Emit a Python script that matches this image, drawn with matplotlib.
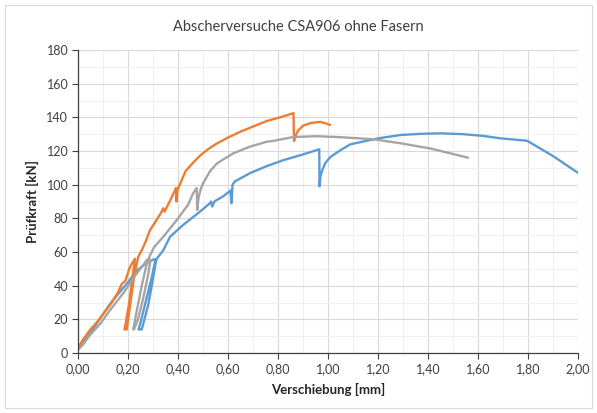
import matplotlib
matplotlib.use("Agg")
import matplotlib.pyplot as plt
from matplotlib.patches import Rectangle
from matplotlib.ticker import MultipleLocator, FuncFormatter

# Shear tests CSA906 without fibres: displacement [mm] vs. test force [kN]
title = "Abscherversuche CSA906 ohne Fasern"
x_label = "Verschiebung [mm]"
y_label = "Prüfkraft [kN]"

# Specimen 1 (blue)
blue_x = [0.00, 0.05, 0.10, 0.13, 0.16, 0.20, 0.235, 0.27, 0.30, 0.31, 0.295, 0.27, 0.25,
          0.242, 0.255, 0.28, 0.30, 0.31, 0.315, 0.341, 0.368, 0.42, 0.488, 0.528, 0.532,
          0.537, 0.545, 0.58, 0.61, 0.614, 0.618, 0.628, 0.69, 0.755, 0.82, 0.89, 0.965,
          0.966, 0.97, 0.978, 0.99, 1.01, 1.05, 1.09, 1.20, 1.29, 1.37, 1.45, 1.54, 1.62,
          1.69, 1.79, 1.80, 1.90, 2.00]
blue_y = [2, 12, 23, 29.5, 35, 42, 49, 53, 55.5, 55.5, 45, 30, 18,
          14, 14, 28, 44, 53, 56, 61, 69, 76, 84, 89, 90,
          87, 90, 93, 96.5, 89, 100, 102, 107, 111, 114.5, 117.5, 121,
          99, 105, 109, 113, 116.5, 120.5, 124, 127.5, 129.5, 130.2, 130.5, 130, 129,
          127.5, 126.2, 125.8, 117, 107]

# Specimen 2 (orange)
orange_x = [0.00, 0.02, 0.048, 0.08, 0.11, 0.128, 0.141, 0.16, 0.175, 0.19, 0.205, 0.215,
            0.228, 0.218, 0.205, 0.19, 0.186, 0.195, 0.21, 0.225, 0.241, 0.255, 0.27,
            0.288, 0.31, 0.335, 0.341, 0.346, 0.37, 0.392, 0.394, 0.398, 0.41, 0.43,
            0.46, 0.49, 0.52, 0.55, 0.60, 0.65, 0.70, 0.755, 0.82, 0.862, 0.864, 0.868,
            0.88, 0.90, 0.93, 0.968, 0.99, 1.008]
orange_y = [3, 8, 13.7, 19, 25, 28.5, 31.5, 36, 41, 43, 50, 53,
            56, 45, 30, 17, 14, 14, 30, 46, 57.2, 61, 66,
            73, 78, 84, 86, 84, 91, 98, 90, 97, 101, 108,
            113, 117.5, 121, 124, 128, 131.5, 134.5, 137.8, 140.5, 142.5, 126, 128.5,
            132, 135, 136.6, 137.3, 136.5, 135.5]

# Specimen 3 (gray)
gray_x = [0.00, 0.02, 0.048, 0.09, 0.128, 0.181, 0.235, 0.265, 0.275, 0.29, 0.28, 0.26,
          0.24, 0.224, 0.221, 0.235, 0.255, 0.275, 0.288, 0.305, 0.341, 0.395, 0.44,
          0.461, 0.475, 0.477, 0.482, 0.49, 0.501, 0.528, 0.555, 0.581, 0.621, 0.688,
          0.755, 0.781, 0.861, 0.955, 1.05, 1.18, 1.29, 1.37, 1.41, 1.49, 1.56]
gray_y = [2, 5, 10.7, 17.5, 25.5, 35.5, 47.3, 53, 55.3, 55.3, 46, 32,
          20, 14, 14, 25, 40, 53, 58, 63, 69, 79, 88,
          95, 98, 85, 92, 97, 101, 108, 112.5, 115, 118.6, 122.6,
          125.5, 126, 128.3, 128.8, 128.2, 127, 124.6, 122.5, 121.5, 118.6, 116]

x_limits = (0.0, 2.0)
y_limits = (0, 180)

plt.rcParams["font.family"] = ["Lato", "DejaVu Sans"]

fig = plt.figure(figsize=(5.97, 4.13), dpi=100)
ax = fig.add_axes([78 / 597, 1 - 353 / 413, 500 / 597, 303 / 413])

# light frame around the whole chart
fig.patches.append(Rectangle((5 / 597, 5 / 413), 587 / 597, 403 / 413,
                             transform=fig.transFigure, fill=False,
                             edgecolor="#d9d9d9", linewidth=0.8))

line_kw = dict(linewidth=1.7, solid_joinstyle="round", solid_capstyle="round")
ax.plot(blue_x, blue_y, color="#5B9BD5", **line_kw)
ax.plot(orange_x, orange_y, color="#ED7D31", **line_kw)
ax.plot(gray_x, gray_y, color="#A5A5A5", **line_kw)

ax.set_xlim(*x_limits)
ax.set_ylim(*y_limits)
ax.xaxis.set_major_locator(MultipleLocator(0.2))
ax.xaxis.set_minor_locator(MultipleLocator(0.1))
ax.yaxis.set_major_locator(MultipleLocator(20))
ax.yaxis.set_minor_locator(MultipleLocator(10))
ax.xaxis.set_major_formatter(FuncFormatter(lambda v, p: f"{v:.2f}".replace(".", ",")))
ax.yaxis.set_major_formatter(FuncFormatter(lambda v, p: f"{v:.0f}"))

ax.grid(which="major", color="#d9d9d9", linewidth=0.8)
ax.grid(which="minor", color="#f0f0f0", linewidth=0.8)
ax.set_axisbelow(True)

for side in ("top", "right"):
    ax.spines[side].set_visible(False)
for side in ("left", "bottom"):
    ax.spines[side].set_color("#404040")
    ax.spines[side].set_linewidth(0.9)

ax.tick_params(which="major", direction="out", length=4, width=0.8, color="#404040",
               labelsize=9, labelcolor="#404040", pad=3)
ax.tick_params(which="minor", length=0)

ax.set_xlabel(x_label, fontsize=9.5, fontweight="bold", color="#262626", labelpad=6)
ax.set_ylabel(y_label, fontsize=9.5, fontweight="bold", color="#262626", labelpad=5)
fig.text(0.5, 1 - 27 / 413, title, ha="center", va="center", fontsize=10.5, color="#404040")

fig.savefig("out.png", dpi=100)
